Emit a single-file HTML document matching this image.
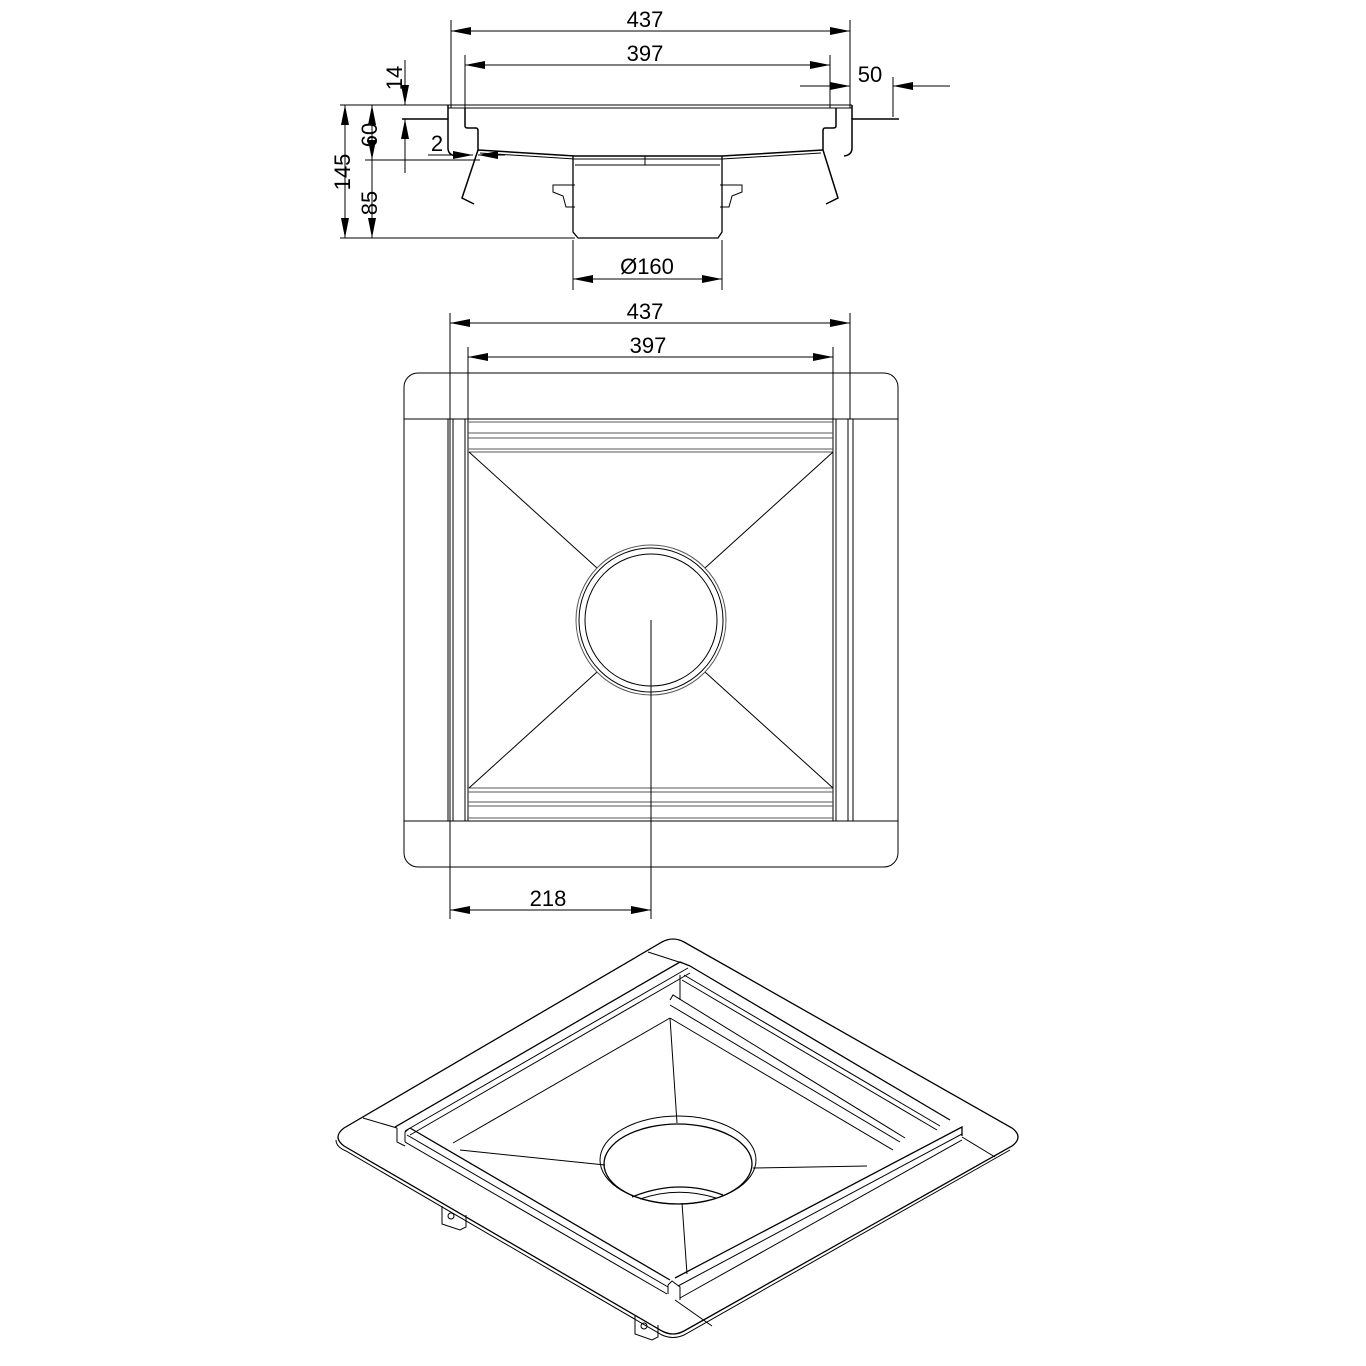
<!DOCTYPE html>
<html><head><meta charset="utf-8"><style>html,body{margin:0;padding:0;background:#fff}svg{display:block}</style></head>
<body>
<svg width="1366" height="1366" viewBox="0 0 1366 1366" xmlns="http://www.w3.org/2000/svg" font-family="Liberation Sans, sans-serif">
<defs>
<marker id="a" viewBox="0 0 20 8" refX="20" refY="4" markerWidth="20" markerHeight="8" markerUnits="userSpaceOnUse" orient="auto"><path d="M0,0 L20,4 L0,8z" fill="#000"/></marker>
<marker id="b" viewBox="0 0 20 8" refX="0" refY="4" markerWidth="20" markerHeight="8" markerUnits="userSpaceOnUse" orient="auto"><path d="M20,0 L0,4 L20,8z" fill="#000"/></marker>
</defs>
<g stroke="#000" fill="none" stroke-width="1">
<!-- SECTION dims -->
<line x1="451" y1="20" x2="451" y2="108"/><line x1="850" y1="20" x2="850" y2="108"/>
<line x1="451" y1="31" x2="850" y2="31" marker-start="url(#b)" marker-end="url(#a)"/>
<line x1="465" y1="55" x2="465" y2="108"/><line x1="830" y1="55" x2="830" y2="108"/>
<line x1="465" y1="65" x2="830" y2="65" marker-start="url(#b)" marker-end="url(#a)"/>
<line x1="800" y1="86" x2="850" y2="86" marker-end="url(#a)"/>
<line x1="893" y1="77" x2="893" y2="117"/>
<line x1="950" y1="86" x2="893" y2="86" marker-end="url(#a)"/>
<line x1="340" y1="105" x2="455" y2="105"/>
<line x1="340" y1="238" x2="575" y2="238"/>
<line x1="365" y1="160" x2="480" y2="160"/>
<line x1="345" y1="105" x2="345" y2="238" marker-start="url(#b)" marker-end="url(#a)"/>
<line x1="372" y1="105" x2="372" y2="160" marker-start="url(#b)" marker-end="url(#a)"/>
<line x1="372" y1="160" x2="372" y2="238" marker-end="url(#a)"/>
<line x1="405" y1="60" x2="405" y2="105" marker-end="url(#a)"/>
<line x1="405" y1="173" x2="405" y2="119" marker-end="url(#a)"/>
<line x1="428" y1="155" x2="473" y2="155" marker-end="url(#a)"/>
<line x1="505" y1="155" x2="478" y2="155" marker-end="url(#a)"/>
<line x1="448" y1="105" x2="852" y2="105"/><line x1="448" y1="108" x2="852" y2="108"/>
<path d="M402,119 H448 V148 Q448,155 456,156 M899,119 H852 V148 Q852,155 844,156" stroke-width="1.5"/>
<line x1="448" y1="105" x2="448" y2="119" stroke-width="1.5"/><line x1="852" y1="105" x2="852" y2="119" stroke-width="1.5"/>
<path d="M465,108 V126 Q465,128 468,128 H476 Q478,128 478,131 V150" stroke-width="1.5"/>
<path d="M836,108 V126 Q836,128 833,128 H825 Q823,128 823,131 V150" stroke-width="1.5"/>
<path d="M478,150 L575,156 H722 L823,150" stroke-width="1.5"/>
<path d="M480,153 L575,159 H722 L821,153"/>
<path d="M573,156 V232 L578,238 H718 L722,232 V156" stroke-width="1.3"/>
<path d="M575,165 H720"/>
<line x1="645" y1="156" x2="645" y2="165"/>
<path d="M575,185 H553 V192 L563,196 L566,207 H575"/>
<path d="M720,185 H742 V192 L732,196 L729,207 H720"/>
<path d="M478,150 L462,198 L474,204" stroke-width="1.5"/>
<path d="M823,150 L838,198 L826,204" stroke-width="1.5"/>
<line x1="573" y1="240" x2="573" y2="290"/><line x1="722" y1="240" x2="722" y2="290"/>
<line x1="573" y1="279" x2="722" y2="279" marker-start="url(#b)" marker-end="url(#a)"/>
<!-- PLAN -->
<line x1="450" y1="313" x2="450" y2="919"/><line x1="850" y1="313" x2="850" y2="419"/>
<line x1="450" y1="323" x2="850" y2="323" marker-start="url(#b)" marker-end="url(#a)"/>
<line x1="468" y1="347" x2="468" y2="419"/><line x1="833" y1="347" x2="833" y2="419"/>
<line x1="468" y1="357" x2="833" y2="357" marker-start="url(#b)" marker-end="url(#a)"/>
<rect x="404" y="373" width="494" height="494" rx="14"/>
<line x1="404" y1="419" x2="898" y2="419"/><line x1="404" y1="821" x2="898" y2="821"/>
<line x1="448" y1="419" x2="448" y2="821"/><line x1="453" y1="419" x2="453" y2="821"/>
<line x1="465" y1="419" x2="465" y2="821"/><line x1="468" y1="419" x2="468" y2="821"/>
<line x1="833" y1="419" x2="833" y2="821"/><line x1="836" y1="419" x2="836" y2="821"/>
<line x1="848" y1="419" x2="848" y2="821"/><line x1="853" y1="419" x2="853" y2="821"/>
<g stroke="#555">
<line x1="468" y1="422" x2="833" y2="422"/><line x1="468" y1="433" x2="833" y2="433"/>
<line x1="468" y1="438" x2="833" y2="438"/><line x1="468" y1="449" x2="833" y2="449"/>
<line x1="468" y1="452" x2="833" y2="452"/>
<line x1="468" y1="788" x2="833" y2="788"/><line x1="468" y1="792" x2="833" y2="792"/>
<line x1="468" y1="802" x2="833" y2="802"/><line x1="468" y1="806" x2="833" y2="806"/>
<line x1="468" y1="818" x2="833" y2="818"/>
</g>
<line x1="469" y1="452" x2="597" y2="568"/><line x1="833" y1="452" x2="705" y2="568"/>
<line x1="469" y1="788" x2="597" y2="672"/><line x1="833" y1="788" x2="705" y2="672"/>
<circle cx="651" cy="620" r="75" stroke="#555"/><circle cx="651" cy="620" r="72"/><circle cx="651" cy="620" r="66"/>
<line x1="651" y1="620" x2="651" y2="919"/>
<line x1="450" y1="910" x2="651" y2="910" marker-start="url(#b)" marker-end="url(#a)"/>
<!-- ISO -->
<path d="M662,942 Q673,936 684,942 L1012,1128 Q1024,1137 1012,1146 L684,1331 Q673,1337 662,1331 L344,1146 Q332,1137 344,1128 Z" stroke-width="1.3"/>
<path d="M336,1140 Q336,1147 346,1151 L662,1335 Q673,1340 684,1335 L1010,1150"/>
<path d="M363,1118 L397,1128"/><path d="M648,952 L682,963"/>
<path d="M962,1137 L995,1157"/><path d="M675,1300 L712,1326"/>
<!-- back-left rail -->
<path d="M395,1127 L680,962 L690,966" stroke-width="1.3"/>
<path d="M405,1131 L688,968"/><path d="M410,1135 L690,973"/>
<path d="M397,1128 V1142 L405,1146"/>
<!-- back-right wall/rail -->
<path d="M690,966 L950,1120" stroke-width="1.3"/>
<path d="M684,975 L940,1126"/><path d="M682,980 L937,1130"/>
<path d="M680,975 V1000"/>
<path d="M670,1000 L673,995 L905,1138"/><path d="M670,1005 L900,1142"/><path d="M670,1018 L893,1150"/>
<!-- front-left rail -->
<path d="M410,1128 L670,1280" stroke-width="1.3"/>
<path d="M407,1135 L668,1287"/><path d="M405,1142 L667,1294"/><path d="M410,1128 L405,1132 V1142"/>
<!-- front-right rail -->
<path d="M675,1278 L962,1127 L962,1136" stroke-width="1.3"/>
<path d="M678,1286 L962,1134"/><path d="M680,1298 L962,1140"/>
<path d="M668,1285 L672,1281 L680,1287 V1300 M668,1285 V1294"/>
<!-- basin -->
<path d="M453,1143 L670,1018"/><path d="M670,1018 L677,1123"/>
<path d="M460,1150 L605,1165"/><path d="M753,1168 L867,1166"/>
<path d="M682,1203 L687,1274"/>
<ellipse cx="678" cy="1160" rx="78" ry="44"/>
<ellipse cx="678" cy="1164" rx="74" ry="40" stroke-width="1.3"/>
<path d="M632,1197 Q678,1178 723,1195" stroke-width="1.3"/>
<path d="M640,1199 Q678,1186 716,1198"/>
<!-- tabs -->
<path d="M442,1206 V1224 L460,1230 L466,1227 V1215"/><circle cx="451" cy="1216" r="3"/>
<path d="M635,1316 V1334 L652,1340 L658,1337 V1325"/><circle cx="644" cy="1326" r="3"/>
</g>
<g font-size="22" text-anchor="middle" fill="#000">
<text x="645" y="27">437</text>
<text x="645" y="61">397</text>
<text x="870" y="82">50</text>
<text x="437" y="151">2</text>
<text transform="translate(402,78) rotate(-90)">14</text>
<text transform="translate(377,135) rotate(-90)">60</text>
<text transform="translate(377,203) rotate(-90)">85</text>
<text transform="translate(350,172) rotate(-90)">145</text>
<text x="647" y="274">Ø160</text>
<text x="645" y="319">437</text>
<text x="648" y="353">397</text>
<text x="548" y="906">218</text>
</g>
</svg>
</body></html>
